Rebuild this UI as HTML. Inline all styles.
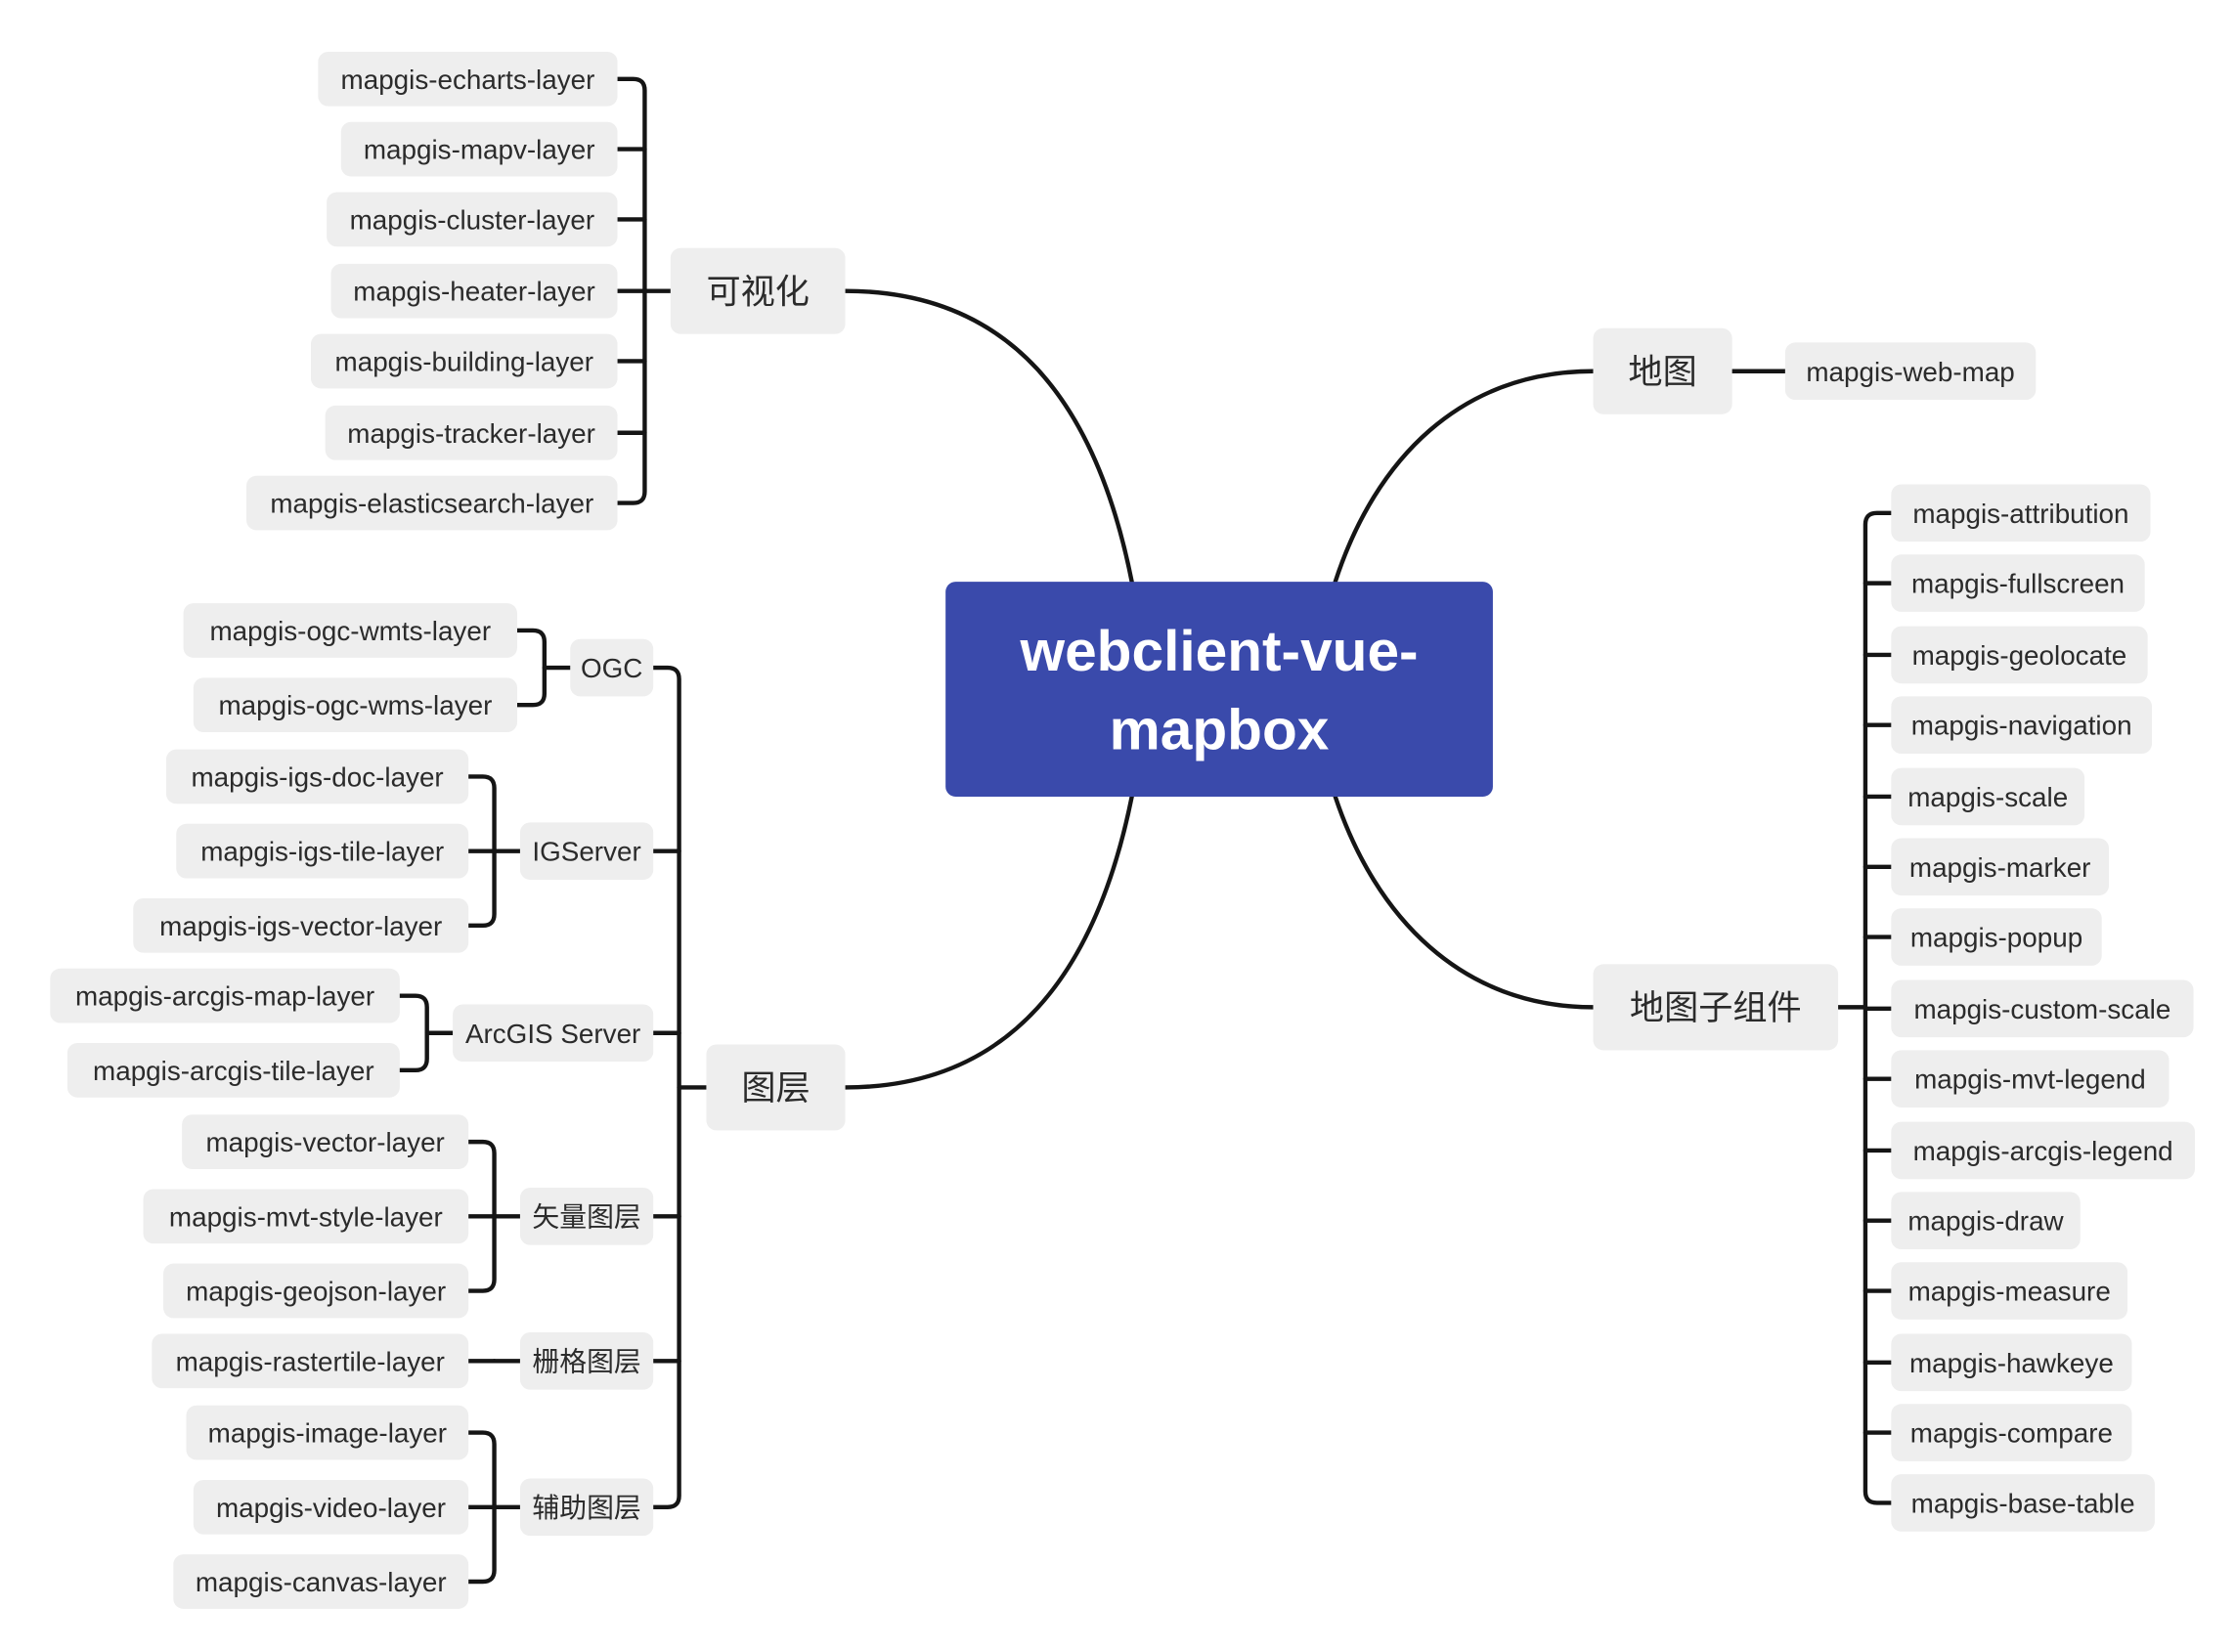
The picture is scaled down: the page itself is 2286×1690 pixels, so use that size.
<!DOCTYPE html>
<html><head><meta charset="utf-8">
<style>
html,body{margin:0;padding:0;background:#fff;}
svg{display:block;}
text{font-family:"Liberation Sans","Noto Sans CJK SC",sans-serif;fill:#2b2b2b;}
</style></head>
<body>
<svg id="s" width="2286" height="1690" viewBox="0 0 1560 1153" xmlns="http://www.w3.org/2000/svg">
<rect width="1560" height="1153" fill="#fff"/>
<g id="lines" fill="none" stroke="#151515" stroke-width="3" stroke-linecap="round"></g>
<g id="nodes"></g>
<rect x="660" y="406" width="382" height="150" rx="7" fill="#3a4aab"/>
<text x="851" y="468" text-anchor="middle" font-size="40" font-weight="bold" style="fill:#fff">webclient-vue-</text>
<text x="851" y="523" text-anchor="middle" font-size="40" font-weight="bold" style="fill:#fff">mapbox</text>
</svg>
<script>
const NS="http://www.w3.org/2000/svg";
const L=document.getElementById('lines'),N=document.getElementById('nodes');
function path(d){const p=document.createElementNS(NS,'path');p.setAttribute('d',d);L.appendChild(p);}
function box(x1,x2,cy,t,h,fs){h=h||40;fs=fs||19;
 const r=document.createElementNS(NS,'rect');r.setAttribute('x',x1);r.setAttribute('y',cy-h/2);r.setAttribute('width',x2-x1);r.setAttribute('height',h);r.setAttribute('rx',7);r.setAttribute('fill','#eeeeee');N.appendChild(r);
 const tx=document.createElementNS(NS,'text');tx.setAttribute('x',(x1+x2)/2);tx.setAttribute('y',cy+fs*0.36);tx.setAttribute('text-anchor','middle');tx.setAttribute('font-size',fs);tx.textContent=t;N.appendChild(tx);}
// bracket: parent edge px at py, bracket x bx, children edge cx, list of ys; dir -1 = children left
function bracket(px,py,bx,cx,ys){
 path(`M${px},${py} H${bx}`);
 const r=8,top=Math.min(...ys),bot=Math.max(...ys);
 if(ys.length===1){path(`M${bx},${py} H${cx}`);return;}
 const s=cx<bx?-1:1;
 path(`M${cx},${top} H${bx+s*r} Q${bx},${top} ${bx},${top+r} V${bot-r} Q${bx},${bot} ${bx+s*r},${bot} H${cx}`);
 ys.forEach(y=>{if(y!==top&&y!==bot)path(`M${bx},${y} H${cx}`);});
}
// central curves
path("M790,406 C765,280 705,203 590,203");
path("M790,556 C765,680 705,759 590,759");
path("M932,406 C960,320 1020,259 1112,259");
path("M932,556 C960,640 1020,703 1112,703");
// 可视化
box(468,590,203,"可视化",60,24);
const vis=[[222,"mapgis-echarts-layer",55],[238,"mapgis-mapv-layer",104],[228,"mapgis-cluster-layer",153],[231,"mapgis-heater-layer",203],[217,"mapgis-building-layer",252],[227,"mapgis-tracker-layer",302],[172,"mapgis-elasticsearch-layer",351]];
bracket(468,203,450,431,vis.map(v=>v[2]));
vis.forEach(v=>box(v[0],431,v[2],v[1],38));
// 图层
box(493,590,759,"图层",60,24);
const subs=[[398,"OGC",466],[363,"IGServer",594],[316,"ArcGIS Server",721],[363,"矢量图层",849],[363,"栅格图层",950],[363,"辅助图层",1052]];
bracket(493,759,474,456,subs.map(v=>v[2]));
subs.forEach(v=>box(v[0],456,v[2],v[1],40));
function grp(px,py,bx,right,items){bracket(px,py,bx,right,items.map(v=>v[2]));items.forEach(v=>box(v[0],right,v[2],v[1],38));}
grp(398,466,380,361,[[128,"mapgis-ogc-wmts-layer",440],[135,"mapgis-ogc-wms-layer",492]]);
grp(363,594,345,327,[[116,"mapgis-igs-doc-layer",542],[123,"mapgis-igs-tile-layer",594],[93,"mapgis-igs-vector-layer",646]]);
grp(316,721,298,279,[[35,"mapgis-arcgis-map-layer",695],[47,"mapgis-arcgis-tile-layer",747]]);
grp(363,849,345,327,[[127,"mapgis-vector-layer",797],[100,"mapgis-mvt-style-layer",849],[114,"mapgis-geojson-layer",901]]);
grp(363,950,345,327,[[106,"mapgis-rastertile-layer",950]]);
grp(363,1052,345,327,[[130,"mapgis-image-layer",1000],[135,"mapgis-video-layer",1052],[121,"mapgis-canvas-layer",1104]]);
// 地图
box(1112,1209,259,"地图",60,24);
path("M1209,259 H1246");
box(1246,1421,259,"mapgis-web-map",40);
// 地图子组件
box(1112,1283,703,"地图子组件",60,24);
const rc=[[1501,"mapgis-attribution",358],[1497,"mapgis-fullscreen",407],[1499,"mapgis-geolocate",457],[1502,"mapgis-navigation",506],[1455,"mapgis-scale",556],[1472,"mapgis-marker",605],[1467,"mapgis-popup",654],[1531,"mapgis-custom-scale",704],[1514,"mapgis-mvt-legend",753],[1532,"mapgis-arcgis-legend",803],[1452,"mapgis-draw",852],[1485,"mapgis-measure",901],[1488,"mapgis-hawkeye",951],[1488,"mapgis-compare",1000],[1504,"mapgis-base-table",1049]];
bracket(1283,703,1302,1320,rc.map(v=>v[2]));
rc.forEach(v=>box(1320,v[0],v[2],v[1],40));
</script>
</body></html>
